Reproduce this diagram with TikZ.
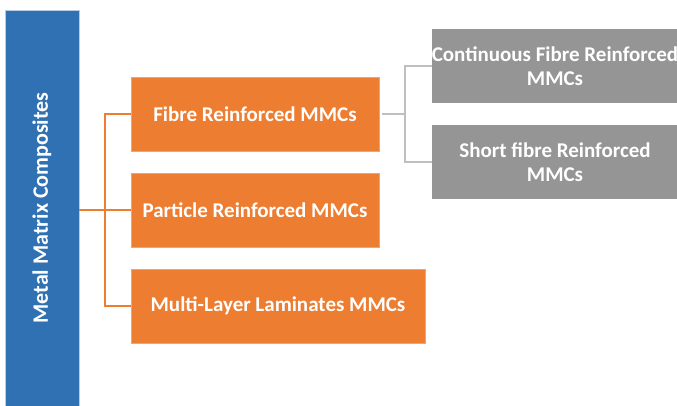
\documentclass[tikz,border=0pt]{standalone}
\usepackage{fontspec}
\setmainfont{Carlito}
\usepackage{xcolor}
\usetikzlibrary{positioning,calc}

\definecolor{mmcblue}{HTML}{3071B3}
\definecolor{mmcorange}{HTML}{ED7D31}
\definecolor{mmcgrey}{HTML}{959595}
\definecolor{linkgrey}{HTML}{BFBFBF}

\begin{document}
\begin{tikzpicture}[
  x=1pt, y=-1pt,
  base/.style={rectangle, inner sep=0pt, outer sep=0pt, text=white, align=center,
    font=\fontsize{21}{24}\selectfont\bfseries},
  root/.style={base, fill=mmcblue, draw=mmcblue!35, line width=0.8pt,
    minimum width=74pt, minimum height=396pt, font=\fontsize{22}{26}\selectfont\bfseries},
  kind/.style={base, fill=mmcorange, draw=mmcorange!70, line width=0.6pt,
    minimum width=248pt, minimum height=74pt},
  sub/.style={base, fill=mmcgrey, minimum width=246pt, minimum height=74pt},
  olink/.style={draw=mmcorange, line width=2pt},
  glink/.style={draw=linkgrey, line width=2pt},
]
\useasboundingbox (0,0) rectangle (677,406);
\clip (0,0) rectangle (677,406);

% Root
\node[root] (mmc) at (42,208) {\rotatebox{90}{Metal Matrix Composites}};

% Reinforcement types
\node[kind] (fibre) at (255,114) {Fibre Reinforced MMCs};
\node[kind, below=22pt of fibre] (particle) {Particle Reinforced MMCs};
\node[kind, minimum width=294pt, below=22pt of particle.south west, anchor=north west]
  (multi) {Multi-Layer Laminates MMCs};

% Fibre subtypes
\node[sub] (cont) at (555,66) {Continuous Fibre Reinforced\\MMCs};
\node[sub, below=22pt of cont] (short) {Short fibre Reinforced\\MMCs};

% Connectors
\coordinate (otrunk) at ($(particle.west)+(-26,0)$);
\coordinate (gtrunk) at ($(fibre.east)+(26,0)$);
\draw[olink] (mmc.east |- particle.west) -- (particle.west);
\draw[olink] (fibre.west) -- (fibre.west -| otrunk) -- (multi.west -| otrunk) -- (multi.west);
\draw[glink] ([xshift=3pt]fibre.east) -- (gtrunk);
\draw[glink] (cont.west) -- (cont.west -| gtrunk) -- (short.west -| gtrunk) -- (short.west);

\end{tikzpicture}
\end{document}
